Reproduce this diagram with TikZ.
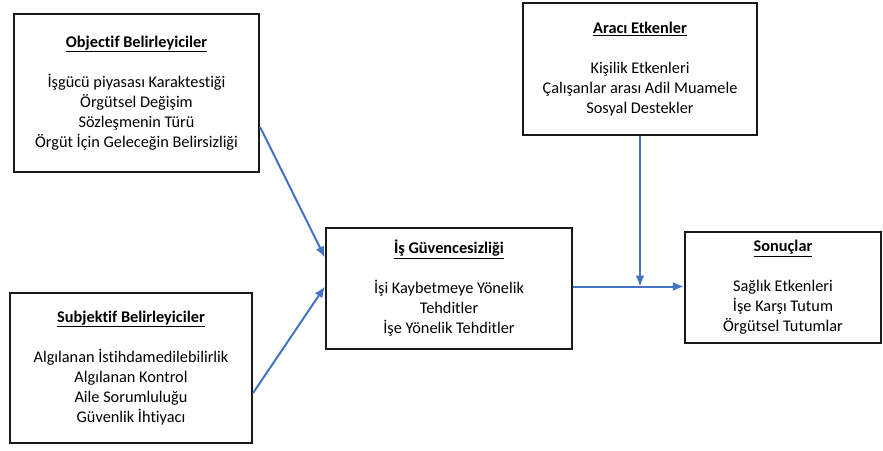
\documentclass[tikz,border=0pt]{standalone}
\usepackage{fontspec}
\setmainfont[Ligatures=NoCommon]{Carlito}
\usetikzlibrary{arrows.meta}
\definecolor{linkblue}{HTML}{4472C4}
\tikzset{
  panel/.style={draw=black!90, line width=2.2pt, align=center, inner sep=0pt,
    font=\fontsize{16.3}{20}\selectfont, text=black},
  link/.style={draw=linkblue, line width=2pt, -{Latex[length=11pt,width=9pt]}},
}
\newcommand{\paneltitle}[1]{\textbf{\underline{#1}}\\[20pt]}
\begin{document}
\begin{tikzpicture}[x=1pt,y=-1pt]
  \useasboundingbox (0,0) rectangle (883,450);
  \fill[white] (0,0) rectangle (883,450);

  \node[panel, minimum width=245pt, minimum height=158pt] (obj) at (136.5,93)
    {\paneltitle{Objectif Belirleyiciler}%
     İşgücü piyasası Karaktestiği\\ Örgütsel Değişim\\ Sözleşmenin Türü\\
     Örgüt İçin Geleceğin Belirsizliği};

  \node[panel, minimum width=242pt, minimum height=150pt] (subj) at (131,368)
    {\paneltitle{Subjektif Belirleyiciler}%
     Algılanan İstihdamedilebilirlik\\ Algılanan Kontrol\\ Aile Sorumluluğu\\
     Güvenlik İhtiyacı};

  \node[panel, minimum width=234pt, minimum height=132pt] (arac) at (640,69)
    {\paneltitle{Aracı Etkenler}%
     Kişilik Etkenleri\\ Çalışanlar arası Adil Muamele\\ Sosyal Destekler};

  \node[panel, minimum width=246pt, minimum height=121pt] (is) at (449,288.5)
    {\paneltitle{İş Güvencesizliği}%
     İşi Kaybetmeye Yönelik\\ Tehditler\\ İşe Yönelik Tehditler};

  \node[panel, minimum width=196pt, minimum height=111pt] (son) at (783,287.5)
    {\paneltitle{Sonuçlar}%
     Sağlık Etkenleri\\ İşe Karşı Tutum\\ Örgütsel Tutumlar};

  % determinants feeding into job insecurity
  \draw[link] ([yshift=-34pt]obj.east) -- ([yshift=31pt]is.west);
  \draw[link] ([yshift=-25pt]subj.east) -- ([yshift=2pt]is.west);

  % job insecurity to outcomes, with the moderators joining from above
  \coordinate (isout) at ([yshift=2pt]is.east);
  \coordinate (join) at (arac.south |- isout);
  \draw[link] (isout) -- (isout -| son.west);
  \draw[link] (arac.south) -- (join);
\end{tikzpicture}
\end{document}
